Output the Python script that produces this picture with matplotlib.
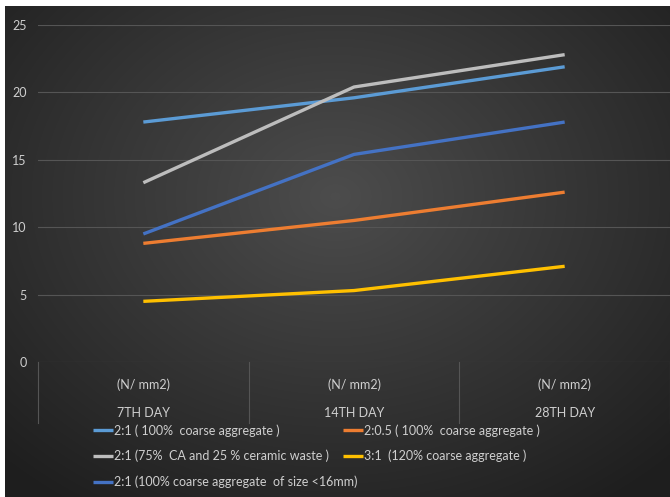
import numpy as np
import matplotlib.pyplot as plt

# compressive strength (N/mm2) at each curing age
days = ['7TH DAY', '14TH DAY', '28TH DAY']
units = '(N/ mm2)'

mix_a = [17.8, 19.6, 21.9]   # 2:1 100% CA
mix_b = [8.8, 10.5, 12.6]    # 2:0.5 100% CA
mix_c = [13.3, 20.4, 22.8]   # 2:1 75% CA + 25% ceramic
mix_d = [4.5, 5.3, 7.1]      # 3:1 120% CA
mix_e = [9.5, 15.4, 17.8]    # 2:1 100% CA <16mm

labels = ['2:1 ( 100%  coarse aggregate )',
          '2:0.5 ( 100%  coarse aggregate )',
          '2:1 (75%  CA and 25 % ceramic waste )',
          '3:1  (120% coarse aggregate )',
          '2:1 (100% coarse aggregate  of size <16mm)']
colors = ['#5b9bd5', '#ed7d31', '#bdbdbd', '#ffc000', '#4472c4']

plt.rcParams['font.family'] = ['Lato', 'DejaVu Sans']
txt = '#cfcfcf'
grid = '#555555'
fs = 9
W, H = 670, 497

fig = plt.figure(figsize=(W / 100, H / 100), dpi=100, facecolor='white')

# dark radial background, thin white margin at top and left
bg = fig.add_axes([5 / W, 0, 1 - 5 / W, 1 - 6 / H])
yy, xx = np.mgrid[0:491, 0:665]
r = np.sqrt(((xx - 330) / 420.0) ** 2 + ((yy - 190) / 330.0) ** 2)
shade = np.clip(0.30 - 0.16 * r, 0.12, 0.30)
bg.imshow(np.dstack([shade] * 3), aspect='auto', extent=[0, 1, 0, 1])
bg.axis('off')

ax = fig.add_axes([38 / W, 135 / H, 632 / W, 337 / H])
ax.patch.set_alpha(0)
x = np.arange(len(days))
series = [mix_a, mix_b, mix_c, mix_d, mix_e]
handles = []
for vals, lab, col in zip(series, labels, colors):
    h, = ax.plot(x, vals, color=col, lw=2.4, label=lab, solid_capstyle='butt')
    handles.append(h)

ax.set_xlim(-0.5, 2.5)
ax.set_ylim(0, 25)
ax.set_yticks([0, 5, 10, 15, 20, 25])
ax.yaxis.grid(True, color=grid, lw=0.8)
ax.set_axisbelow(True)
for s in ax.spines.values():
    s.set_visible(False)
ax.tick_params(axis='y', length=0, colors=txt, labelsize=fs, pad=8)
ax.set_xticks([])

# category labels and dividers below the axis
trans = ax.get_xaxis_transform()
for i, d in enumerate(days):
    ax.text(i, -0.068, units, transform=trans, ha='center', va='center', color=txt, fontsize=fs)
    ax.text(i, -0.151, d, transform=trans, ha='center', va='center', color=txt, fontsize=fs)
for b in [-0.5, 0.5, 1.5, 2.5]:
    ax.plot([b, b], [0, -0.181], transform=trans, color=grid, lw=0.8, clip_on=False)

# legend in two columns
leg_kw = dict(loc='upper left', frameon=False, fontsize=fs, labelcolor=txt,
              handlelength=1.6, handletextpad=0.05, labelspacing=1.05, borderpad=0,
              borderaxespad=0)
fig.legend([handles[0], handles[2], handles[4]], [labels[0], labels[2], labels[4]],
           bbox_to_anchor=(93 / W, 1 - 424 / H), **leg_kw)
fig.legend([handles[1], handles[3]], [labels[1], labels[3]],
           bbox_to_anchor=(343 / W, 1 - 424 / H), **leg_kw)

fig.savefig('out.png', dpi=100, facecolor='white')
